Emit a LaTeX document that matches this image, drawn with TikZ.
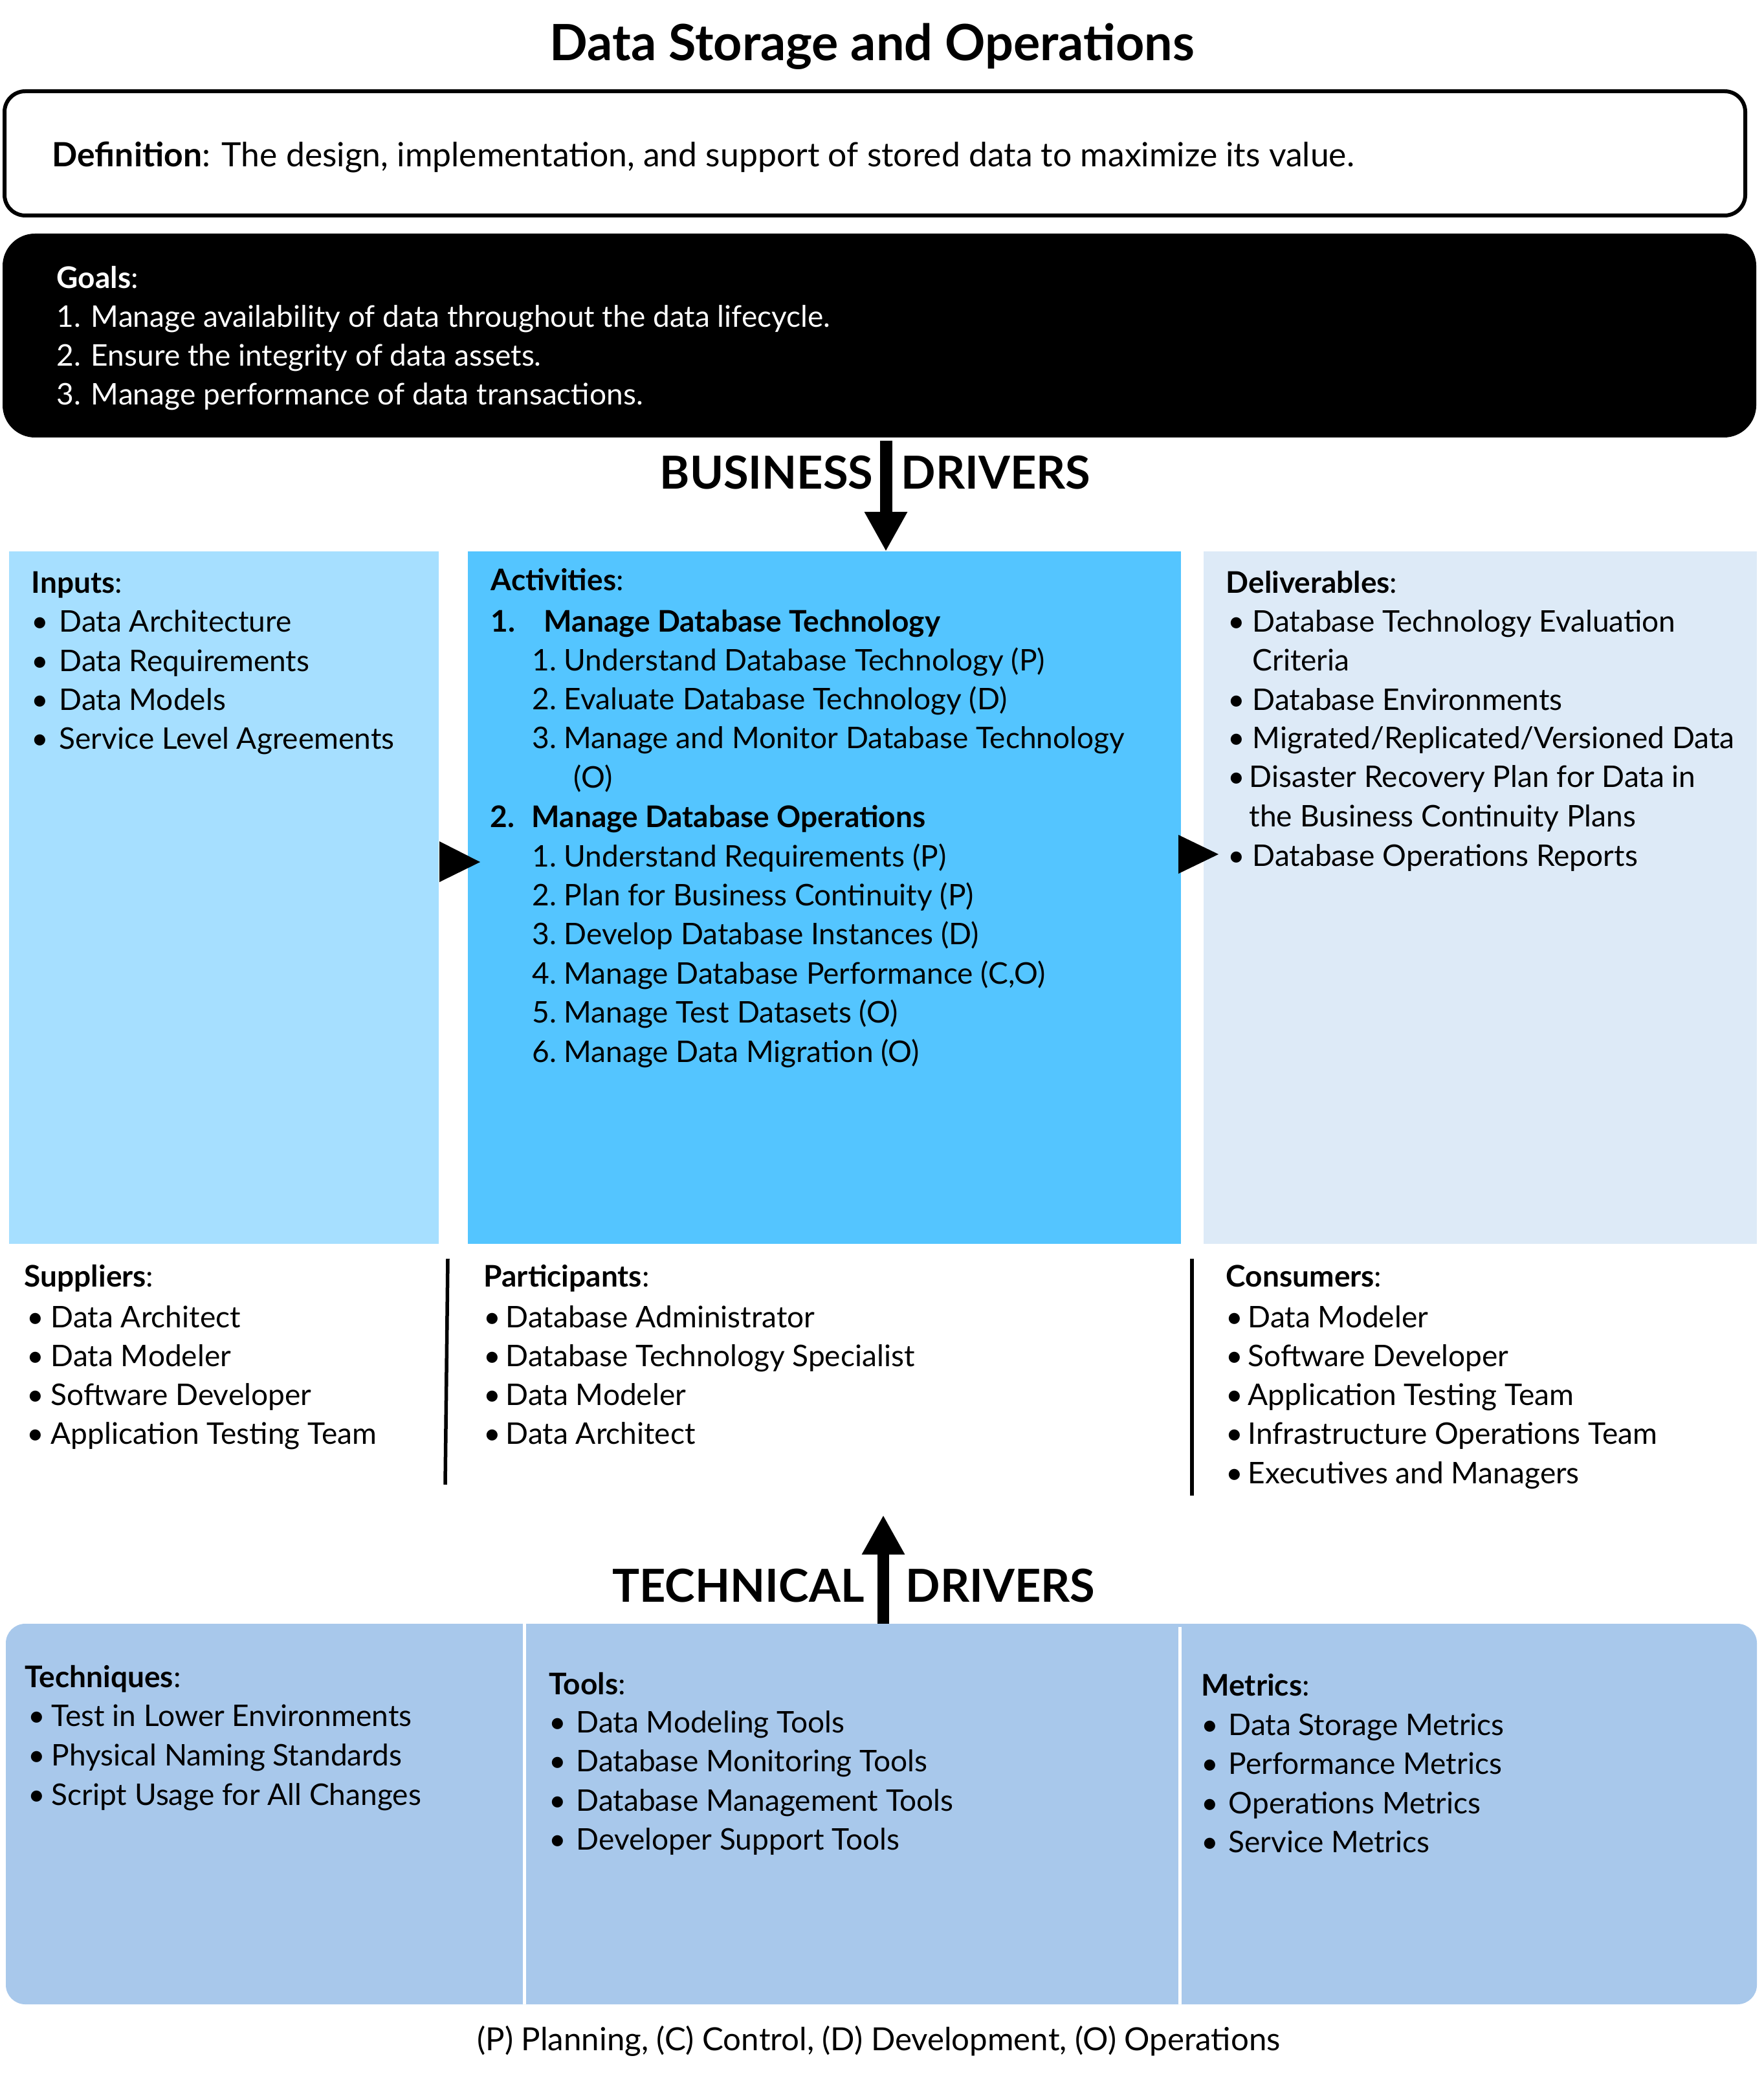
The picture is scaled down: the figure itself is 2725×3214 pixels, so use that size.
\documentclass[tikz,border=0pt]{standalone}
\usepackage{fontspec}
\setmainfont{Lato}
\usetikzlibrary{arrows.meta}
\definecolor{inputblue}{RGB}{166,223,255}
\definecolor{actblue}{RGB}{84,197,255}
\definecolor{delivblue}{RGB}{221,234,247}
\definecolor{techblue}{RGB}{168,200,235}
\tikzset{
  txt/.style={anchor=base west, inner sep=0pt, font=\fontsize{13.1}{17}\selectfont},
  driver/.style={anchor=base, inner sep=0pt, font=\fontsize{20}{24}\selectfont\bfseries},
  sepline/.style={line width=0.55mm},
  bigarrow/.style={line width=1.9mm, -{Triangle[width=6.2mm,length=6.1mm]}},
}
% name, x, first baseline, row step, bullet gap, items
\newcommand{\itemrows}[6]{%
  \foreach \txt [count=\k] in {#6}
    \node[txt] (#1\k) at (#2,{#3+#4*(\k-1)}) {\makebox[#5][l]{\textbullet}\txt};%
}
\begin{document}
\begin{tikzpicture}[x=0.1mm,y=-0.1mm]
  \useasboundingbox (0,0) rectangle (2725,3214);
  % panels
  \draw[line width=0.6mm, rounded corners=3.2mm] (7,141) rectangle (2697,333);
  \fill[rounded corners=5mm] (4,361) rectangle (2714,676);
  \fill[inputblue] (14,852) rectangle (678,1922);
  \fill[actblue] (723,852) rectangle (1825,1922);
  \fill[delivblue] (1860,852) rectangle (2715,1922);
  \fill[techblue, rounded corners=3mm] (9,2509) rectangle (2715,3097);
  \draw[white, line width=0.5mm] (810,2509) -- (810,3097) (1823,2514) -- (1823,3097);
  \draw[sepline] (692,1945) -- (688,2294);
  \draw[sepline] (1842,1945) -- (1842,2311);
  \fill (679,1300) -- (742,1332) -- (679,1363) -- cycle;
  \fill (1821,1290) -- (1883,1320) -- (1821,1350) -- cycle;

  % drivers
  \coordinate (bdtop) at (1369,681);
  \coordinate (bdtip) at (1369,852);
  \draw[bigarrow] (bdtop) -- (bdtip);
  \node[driver, anchor=base east] (bdleft) at (1350,756) {BUSINESS};
  \node[driver, anchor=base west] (bdright) at (1392,756) {DRIVERS};
  \coordinate (tdbot) at (1365,2509);
  \coordinate (tdtip) at (1365,2341);
  \draw[bigarrow, line width=1.8mm] (tdbot) -- (tdtip);
  \node[driver, anchor=base east] (tdleft) at (1336,2475) {TECHNICAL};
  \node[driver, anchor=base west] (tdright) at (1399,2475) {DRIVERS};

  % title, definition, goals
  \node[anchor=base, inner sep=0pt, font=\fontsize{22}{26}\selectfont\bfseries] (title) at (1348,94) {Data Storage and Operations};
  \node[txt, font=\fontsize{14.7}{18}\selectfont] (defn) at (80,258) {\textbf{Definition}: The design, implementation, and support of stored data to maximize its value.};
  \node[txt, text=white] (goals) at (87,446) {\textbf{Goals}:};
  \foreach \txt [count=\k] in {Manage availability of data throughout the data lifecycle., Ensure the integrity of data assets., Manage performance of data transactions.}
    \node[txt, text=white] (goal\k) at (87,{446+60*\k}) {\k. \txt};

  % inputs
  \node[txt] (inputs) at (48,916) {\textbf{Inputs}:};
  \itemrows{inp}{48}{977}{60}{4.3mm}{Data Architecture, Data Requirements, Data Models, Service Level Agreements}

  % activities
  \node[txt] (acts) at (758,913) {\textbf{Activities}:};
  \node[txt, font=\fontsize{13.1}{17}\selectfont\bfseries] (mdt) at (758,976) {\makebox[8.2mm][l]{1.}Manage Database Technology};
  \foreach \txt [count=\k] in {Understand Database Technology (P), Evaluate Database Technology (D), Manage and Monitor Database Technology}
    \node[txt] (mdt\k) at (822,{1036+60.3*(\k-1)}) {\makebox[4.9mm][l]{\k.}\txt};
  \node[txt] (mdt3b) at (886,1217) {(O)};
  \node[txt, font=\fontsize{13.1}{17}\selectfont\bfseries] (mdo) at (757,1278) {\makebox[6.4mm][l]{2.}Manage Database Operations};
  \foreach \txt [count=\k] in {Understand Requirements (P), Plan for Business Continuity (P), Develop Database Instances (D), {Manage Database Performance (C,O)}, Manage Test Datasets (O), Manage Data Migration (O)}
    \node[txt] (mdo\k) at (822,{1339+60.4*(\k-1)}) {\makebox[4.9mm][l]{\k.}\txt};

  % deliverables
  \node[txt] (delivs) at (1894,916) {\textbf{Deliverables}:};
  \node[txt] (dlv1) at (1897,977) {\makebox[3.8mm][l]{\textbullet}Database Technology Evaluation};
  \node[txt] (dlv1b) at (1935,1036) {Criteria};
  \node[txt] (dlv2) at (1897,1097) {\makebox[3.8mm][l]{\textbullet}Database Environments};
  \node[txt] (dlv3) at (1897,1156) {\makebox[3.8mm][l]{\textbullet}Migrated/Replicated/Versioned Data};
  \node[txt] (dlv4) at (1897,1216) {\makebox[3.3mm][l]{\textbullet}Disaster Recovery Plan for Data in};
  \node[txt] (dlv4b) at (1930,1277) {the Business Continuity Plans};
  \node[txt] (dlv5) at (1897,1338) {\makebox[3.8mm][l]{\textbullet}Database Operations Reports};

  % suppliers, participants, consumers
  \node[txt] (supps) at (37,1988) {\textbf{Suppliers}:};
  \itemrows{sup}{41}{2051}{60.3}{3.7mm}{Data Architect, Data Modeler, Software Developer, Application Testing Team}
  \node[txt] (parts) at (747,1988) {\textbf{Participants}:};
  \itemrows{par}{747}{2051}{60.3}{3.4mm}{Database Administrator, Database Technology Specialist, Data Modeler, Data Architect}
  \node[txt] (cons) at (1894,1988) {\textbf{Consumers}:};
  \itemrows{con}{1894}{2051}{60.3}{3.4mm}{Data Modeler, Software Developer, Application Testing Team, Infrastructure Operations Team, Executives and Managers}

  % techniques, tools, metrics
  \node[txt] (techs) at (38,2607) {\textbf{Techniques}:};
  \itemrows{tec}{43}{2667}{61}{3.6mm}{Test in Lower Environments, Physical Naming Standards, Script Usage for All Changes}
  \node[txt] (tools) at (848,2618) {\textbf{Tools}:};
  \itemrows{tol}{848}{2677}{60.5}{4.2mm}{Data Modeling Tools, Database Monitoring Tools, Database Management Tools, Developer Support Tools}
  \node[txt] (mets) at (1856,2620) {\textbf{Metrics}:};
  \itemrows{met}{1856}{2681}{60.5}{4.2mm}{Data Storage Metrics, Performance Metrics, Operations Metrics, Service Metrics}

  \node[txt, anchor=base, font=\fontsize{14}{17}\selectfont] (legend) at (1358,3168) {(P) Planning, (C) Control, (D) Development, (O) Operations};
\end{tikzpicture}
\end{document}
